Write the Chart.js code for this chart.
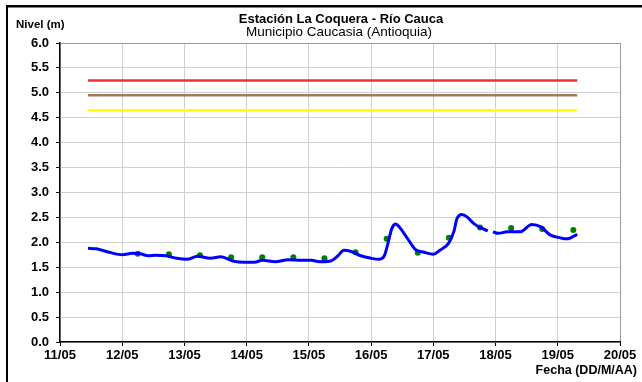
<!DOCTYPE html>
<html>
<head>
<meta charset="utf-8">
<script src="https://cdn.jsdelivr.net/npm/chart.js@4"></script>
<style>
  html, body { margin: 0; padding: 0; background: #fff; }
  #marco { position: relative; width: 642px; height: 382px; }
</style>
</head>
<body>
<div id="marco"><canvas id="graficoNivel" width="642" height="382"></canvas></div>
<script>
// Etiquetas del eje X (un dia cada 24 h)
const etiquetasFecha = ['11/05', '12/05', '13/05', '14/05', '15/05', '16/05', '17/05', '18/05', '19/05', '20/05'];

// Nivel continuo (horas desde 11/05 00:00) - null = hueco en el registro
const horasNivel = [10.8, 14, 19, 24, 28, 31, 34, 37, 41, 45, 49, 53, 58, 62, 67, 71, 75, 78, 83, 88, 93, 97, 100, 104,
    107, 109.5, 112, 116, 120, 123, 125, 126.5, 128, 129.5, 131, 134, 137, 140.5, 144, 146.5, 150, 152, 153, 155, 157,
    159.5, 162, 165, 166, 167, 169, 172.5, 177.5, 182, 185.5, 189, 193, 195.5, 199.5];
const nivelContinuo = [1.88, 1.87, 1.80, 1.75, 1.78, 1.77, 1.73, 1.74, 1.73, 1.68, 1.66, 1.72, 1.68, 1.71, 1.62, 1.60, 1.60, 1.64, 1.61, 1.65, 1.64, 1.64, 1.61, 1.62,
    1.72, 1.84, 1.82, 1.73, 1.68, 1.66, 1.72, 1.98, 2.28, 2.37, 2.30, 2.08, 1.86, 1.80, 1.76, 1.84, 1.99, 2.23, 2.46, 2.56, 2.51,
    2.38, 2.30, 2.23, null, 2.21, 2.18, 2.21, 2.21, 2.36, 2.31, 2.15, 2.09, 2.07, 2.16];

// Lecturas de mira (06:00 y 18:00)
const horasLectura = [30, 42, 54, 66, 78, 90, 102, 114, 126, 138, 150, 162, 174, 186, 198];
const nivelLectura = [1.77, 1.76, 1.74, 1.70, 1.70, 1.70, 1.68, 1.80, 2.07, 1.79, 2.09, 2.30, 2.29, 2.27, 2.25];

// Umbrales de alerta
const umbralRojo = 5.25;
const umbralNaranja = 4.95;
const umbralAmarillo = 4.65;
const horasUmbral = [10.8, 199.5];

const pares = (xs, ys) => xs.map((x, i) => ({ x: x, y: ys[i] }));
const lineaUmbral = v => horasUmbral.map(h => ({ x: h, y: v }));

const fuente = 'Arial, "Liberation Sans", sans-serif';

// Textos y marco dibujados sobre el lienzo
const textos = {
    id: 'textos',
    afterDraw(chart) {
        const c = chart.ctx;
        c.save();
        c.fillStyle = '#000';
        c.fillRect(6, 5, 636, 2.5);
        c.fillRect(6, 5, 2, 377);
        c.textBaseline = 'middle';
        c.textAlign = 'center';
        c.font = 'bold 13px ' + fuente;
        c.fillText('Estación La Coquera - Río Cauca', 341, 19);
        c.font = '13.5px ' + fuente;
        c.fillText('Municipio Caucasia (Antioquia)', 339, 32);
        c.textAlign = 'left';
        c.font = 'bold 11.5px ' + fuente;
        c.fillText('Nivel (m)', 16, 25);
        c.textAlign = 'right';
        c.font = 'bold 12.5px ' + fuente;
        c.fillText('Fecha (DD/M/AA)', 637, 371);
        c.restore();
    }
};

new Chart(document.getElementById('graficoNivel').getContext('2d'), {
    type: 'scatter',
    data: {
        datasets: [
            { data: lineaUmbral(umbralRojo), showLine: true, borderColor: '#f23030', borderWidth: 2.5, pointRadius: 0 },
            { data: lineaUmbral(umbralNaranja), showLine: true, borderColor: '#9e7b5c', borderWidth: 2.5, pointRadius: 0 },
            { data: lineaUmbral(umbralAmarillo), showLine: true, borderColor: '#ffff00', borderWidth: 2.5, pointRadius: 0 },
            { data: pares(horasNivel, nivelContinuo), showLine: true, borderColor: '#0000ff', borderWidth: 3,
              pointRadius: 0, tension: 0.4, cubicInterpolationMode: 'monotone', spanGaps: false },
            { data: pares(horasLectura, nivelLectura), showLine: false, pointRadius: 3, pointBackgroundColor: '#008000',
              pointBorderWidth: 0 }
        ]
    },
    options: {
        responsive: false,
        animation: false,
        events: [],
        layout: { padding: { top: 43, right: 22, left: 0, bottom: 0 } },
        plugins: { legend: { display: false }, tooltip: { enabled: false } },
        scales: {
            x: {
                type: 'linear', min: 0, max: 216,
                afterFit: s => { s.height = 40; },
                afterBuildTicks: s => { s.ticks = etiquetasFecha.map((t, i) => ({ value: i * 24 })); },
                ticks: {
                    callback: v => etiquetasFecha[v / 24],
                    color: '#000', font: { family: fuente, size: 13, weight: 'bold' }, padding: 2, maxRotation: 0
                },
                grid: {
                    color: ctx => ctx.index === etiquetasFecha.length - 1 ? '#999' : '#cfcfcf',
                    tickColor: '#000', tickLength: 4, lineWidth: 1
                },
                border: { color: '#000', width: 1.5 }
            },
            y: {
                min: 0, max: 6,
                afterFit: s => { s.width = 60; },
                ticks: {
                    stepSize: 0.5, callback: v => v.toFixed(1),
                    color: '#000', font: { family: fuente, size: 13, weight: 'bold' }, padding: 7
                },
                grid: {
                    color: ctx => ctx.tick && ctx.tick.value === 6 ? '#999' : '#cfcfcf',
                    tickColor: '#000', tickLength: 4, lineWidth: 1
                },
                border: { color: '#000', width: 1.5 }
            }
        }
    },
    plugins: [textos]
});
</script>
</body>
</html>
